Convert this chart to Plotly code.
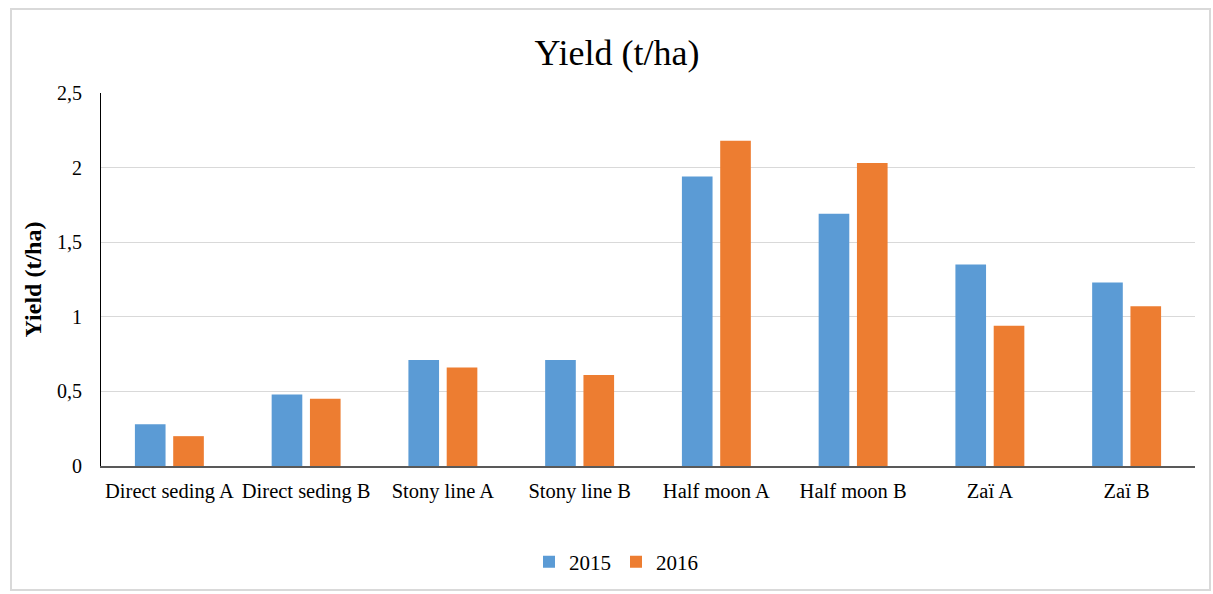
import plotly.graph_objects as go

categories = ["Direct seding A", "Direct seding B", "Stony line A", "Stony line B",
              "Half moon A", "Half moon B", "Zaï A", "Zaï B"]
y2015 = [0.28, 0.48, 0.71, 0.71, 1.94, 1.69, 1.35, 1.23]
y2016 = [0.20, 0.45, 0.66, 0.61, 2.18, 2.03, 0.94, 1.07]
yticks = [0, 0.5, 1, 1.5, 2, 2.5]

FONT = "Liberation Serif, Times New Roman, serif"

fig = go.Figure()
fig.add_trace(go.Bar(name="2015", x=categories, y=y2015, marker_color="#5B9BD5",
                     marker_line_width=0))
fig.add_trace(go.Bar(name="2016", x=categories, y=y2016, marker_color="#ED7D31",
                     marker_line_width=0))

L, R, T, B = 101, 18, 93, 128
W, H = 1213, 594
pw, ph = W - L - R, H - T - B

def px2x(p):
    return (p - L) / pw

def py2y(p):
    return (H - B - p) / ph

fig.update_layout(
    width=W, height=H,
    margin=dict(l=L, r=R, t=T, b=B),
    paper_bgcolor="white", plot_bgcolor="white",
    separators=", ",
    barmode="group", bargap=0.44, bargroupgap=0.2,
    font=dict(family=FONT, color="#000000", size=20),
    title=dict(text="Yield (t/ha)", x=617 / W, xanchor="center", y=1 - 52 / H, yanchor="middle",
               font=dict(family=FONT, size=36, color="#000000")),
    xaxis=dict(showgrid=False, showline=True, linecolor="#595959", linewidth=1.5,
               ticks="", ticklabelstandoff=6,
               tickfont=dict(family=FONT, size=20.5, color="#000000")),
    yaxis=dict(range=[0, 2.5], tickvals=yticks, showgrid=True, gridcolor="#D9D9D9",
               gridwidth=1, showline=True, linecolor="#000000", linewidth=1,
               zeroline=False, ticks="", ticklabelstandoff=14,
               tickfont=dict(family=FONT, size=20, color="#000000"),
               title=dict(text="<b>Yield (t/ha)</b>", standoff=8,
                          font=dict(family=FONT, size=24, color="#000000"))),
    legend=dict(orientation="h", x=px2x(616), xanchor="center",
                y=py2y(562), yanchor="middle",
                font=dict(family=FONT, size=21, color="#000000"),
                traceorder="normal", itemwidth=30),
    shapes=[dict(type="rect", xref="paper", yref="paper",
                 x0=px2x(11), x1=px2x(1210), y0=py2y(590), y1=py2y(9),
                 line=dict(color="#D9D9D9", width=2), fillcolor="rgba(0,0,0,0)",
                 layer="below")],
)

fig.write_html("out.html", config={"displayModeBar": False},
               post_script="document.body.style.margin='0';")
